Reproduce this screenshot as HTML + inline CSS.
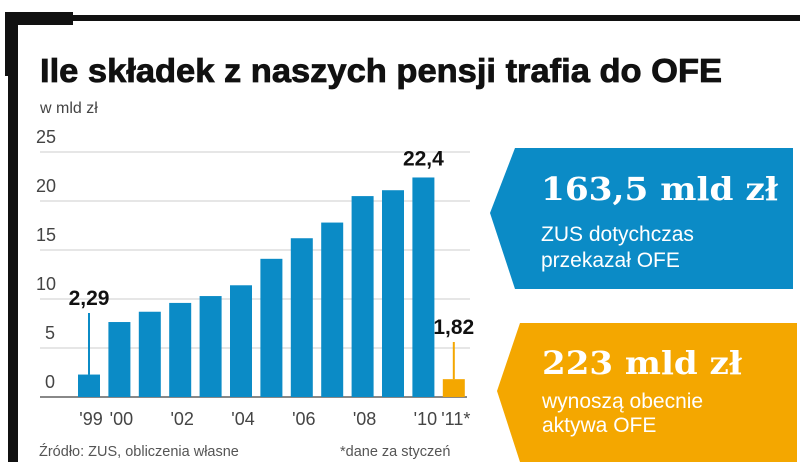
<!DOCTYPE html>
<html><head><meta charset="utf-8"><style>
body{margin:0;background:#fff;}
svg{display:block;font-family:"Liberation Sans",sans-serif;}
</style></head><body>
<svg id="c" width="805" height="476" viewBox="0 0 805 476">
  <g>
    <rect x="5" y="12" width="68" height="13" fill="#111"/>
    <rect x="5" y="12" width="13" height="64" fill="#111"/>
    <rect x="8" y="15" width="10" height="447" fill="#111"/>
    <rect x="73" y="15" width="727" height="6" fill="#111"/>
  </g>
  <text x="40" y="82" font-size="33" font-weight="bold" fill="#111" stroke="#111" stroke-width="0.8" textLength="682" lengthAdjust="spacingAndGlyphs">Ile składek z naszych pensji trafia do OFE</text>
  <text x="40" y="113" font-size="16" fill="#444">w mld zł</text>
  <g id="grid"></g>
  <g id="bars"></g>
  <g id="xl"></g>
  <text x="39" y="456" font-size="14.5" fill="#555">Źródło: ZUS, obliczenia własne</text>
  <text x="340" y="456" font-size="14.5" fill="#555">*dane za styczeń</text>
  <g>
    <polygon points="515,148 793,148 793,289 515,289 490,213" fill="#0b8bc6"/>
    <text x="541" y="200" font-family="'DejaVu Serif',serif" font-weight="bold" font-size="32" fill="#fff" textLength="237" lengthAdjust="spacingAndGlyphs">163,5 mld zł</text>
    <text x="541" y="241" font-size="21" fill="#fff">ZUS dotychczas</text>
    <text x="541" y="267" font-size="21" fill="#fff">przekazał OFE</text>
  </g>
  <g>
    <polygon points="520,323 797,323 797,462 520,462 497,391" fill="#f4a700"/>
    <text x="542" y="374" font-family="'DejaVu Serif',serif" font-weight="bold" font-size="32" fill="#fff" textLength="200" lengthAdjust="spacingAndGlyphs">223 mld zł</text>
    <text x="542" y="408" font-size="21" fill="#fff">wynoszą obecnie</text>
    <text x="542" y="432" font-size="21" fill="#fff">aktywa OFE</text>
  </g>
</svg>
<script>
const years=["1999","2000","2001","2002","2003","2004","2005","2006","2007","2008","2009","2010","2011"];
const values=[2.29,7.65,8.7,9.6,10.3,11.4,14.1,16.2,17.8,20.5,21.1,22.4,1.82];
const tickValues=[0,5,10,15,20,25];
const xLabels=["'99","'00","","'02","","'04","","'06","","'08","","'10","'11*"];
const NS="http://www.w3.org/2000/svg";
const y0=397,k=9.8,x0=78,pitch=30.4,bw=22;
const yS=v=>y0-v*k, xS=i=>x0+i*pitch;
function mk(t,a,p){const e=document.createElementNS(NS,t);for(const n in a)e.setAttribute(n,a[n]);p.appendChild(e);return e;}
const grid=document.getElementById('grid'),bars=document.getElementById('bars'),xl=document.getElementById('xl');
tickValues.forEach(v=>{
  if(v>0){const l=mk('line',{x1:40,x2:470,y1:yS(v),y2:yS(v),stroke:'#ccc','stroke-width':1},grid);
  
  }
  const t=mk('text',{x:v>=10?36:45,y:yS(v)-9,'font-size':18,fill:'#444'},grid);
  
  
  t.textContent=v;
});
values.forEach((v,i)=>{
  const last=i===values.length-1;
  const r=mk('rect',{x:xS(i),y:yS(v),width:bw,height:v*k,fill:last?'#f4a700':'#0b8bc6'},bars);
  
  
  if(xLabels[i]){const t=mk('text',{x:xS(i)+bw/2+2,y:425,'font-size':18,fill:'#444','text-anchor':'middle'},xl);
  
  
  t.textContent=xLabels[i];}
});
const base=mk('line',{x1:40,x2:467,y1:y0,y2:y0,stroke:'#888','stroke-width':2},grid);


[[0,'2,29',313],[11,'22,4',null],[12,'1,82',342]].forEach(([i,s,ly])=>{
  const cx=xS(i)+bw/2;
  if(ly){const l=mk('line',{x1:cx,x2:cx,y1:ly,y2:yS(values[i]),stroke:i===12?'#f4a700':'#0b8bc6','stroke-width':2},bars);
  
  }
  const t=mk('text',{x:cx,y:ly?ly-8:yS(values[i])-12,'font-size':21,'font-weight':'bold',fill:'#111','text-anchor':'middle'},bars);
  
  
  t.textContent=s;
});
</script>
</body></html>
